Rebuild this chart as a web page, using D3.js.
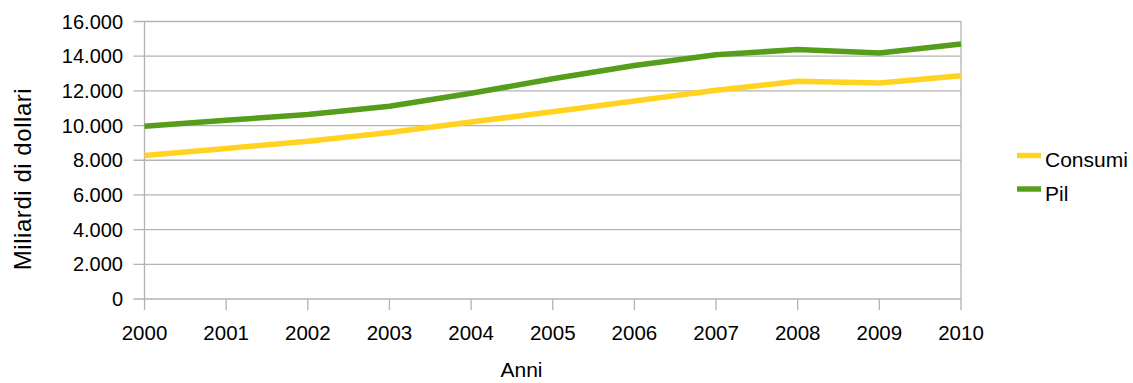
<!DOCTYPE html>
<html><head><meta charset="utf-8">
<script src="https://cdn.jsdelivr.net/npm/d3@7"></script>
<style>
body{margin:0;background:#fff;}
text{font-family:"Liberation Sans",Arial,sans-serif;fill:#000;}
</style></head>
<body><svg id="c" width="1133" height="383"></svg>
<script>
const years = [2000,2001,2002,2003,2004,2005,2006,2007,2008,2009,2010];
const consumi = [8280,8680,9100,9600,10200,10800,11420,12040,12550,12460,12870];
const pil = [9960,10300,10640,11110,11860,12700,13460,14080,14380,14190,14700];
const yTicks = [0,2000,4000,6000,8000,10000,12000,14000,16000];
const seriesNames = ["Consumi","Pil"];
const colors = ["#FFD320","#579D1C"];

const svg = d3.select("#c");
const L=144.5, R=961, T=21.5, B=299;
const x = d3.scaleLinear().domain([2000,2010]).range([L,R]);
const y = d3.scaleLinear().domain([0,16000]).range([B,T]);
const grid="#b3b3b3";
const fmt = v => d3.format(",")(v).replace(/,/g,".");

// gridlines
svg.append("g").selectAll("line").data(yTicks).join("line")
  .attr("x1",L-11).attr("x2",R).attr("y1",d=>y(d)).attr("y2",d=>y(d))
  .attr("stroke",grid).attr("stroke-width",1.3);
// x ticks
svg.append("g").selectAll("line").data(years).join("line")
  .attr("x1",d=>x(d)).attr("x2",d=>x(d)).attr("y1",B).attr("y2",B+11)
  .attr("stroke",grid).attr("stroke-width",1.3);
// left & right border
svg.append("line").attr("x1",L).attr("x2",L).attr("y1",T).attr("y2",B).attr("stroke",grid).attr("stroke-width",1.3);
svg.append("line").attr("x1",R).attr("x2",R).attr("y1",T).attr("y2",B).attr("stroke",grid).attr("stroke-width",1.3);

// y labels
svg.append("g").selectAll("text").data(yTicks).join("text")
  .attr("x",123).attr("y",d=>y(d)).attr("dy","0.35em").attr("text-anchor","end")
  .style("font-size","20px").text(fmt);
// x labels
svg.append("g").selectAll("text").data(years).join("text")
  .attr("x",d=>x(d)).attr("y",340).attr("text-anchor","middle")
  .style("font-size","20.5px").text(d=>d);

// titles
svg.append("text").attr("transform","translate(31,179) rotate(-90)").attr("text-anchor","middle")
  .style("font-size","24px").style("letter-spacing","0.55px").text("Miliardi di dollari");
svg.append("text").attr("x",521.5).attr("y",377).attr("text-anchor","middle")
  .style("font-size","21px").text("Anni");

// lines
const line = d3.line().x((d,i)=>x(years[i])).y(d=>y(d));
[consumi,pil].forEach((s,i)=>{
  svg.append("path").attr("d",line(s)).attr("fill","none")
    .attr("stroke",colors[i]).attr("stroke-width",5.5).attr("stroke-linejoin","round");
});

// legend
seriesNames.forEach((n,i)=>{
  const cy = 155.5 + i*33.5;
  svg.append("rect").attr("x",1017).attr("y",cy-2.7).attr("width",24).attr("height",5.4).attr("fill",colors[i]);
  svg.append("text").attr("x",1045).attr("y",cy+11.5).style("font-size","21px").text(n);
});
</script></body></html>
